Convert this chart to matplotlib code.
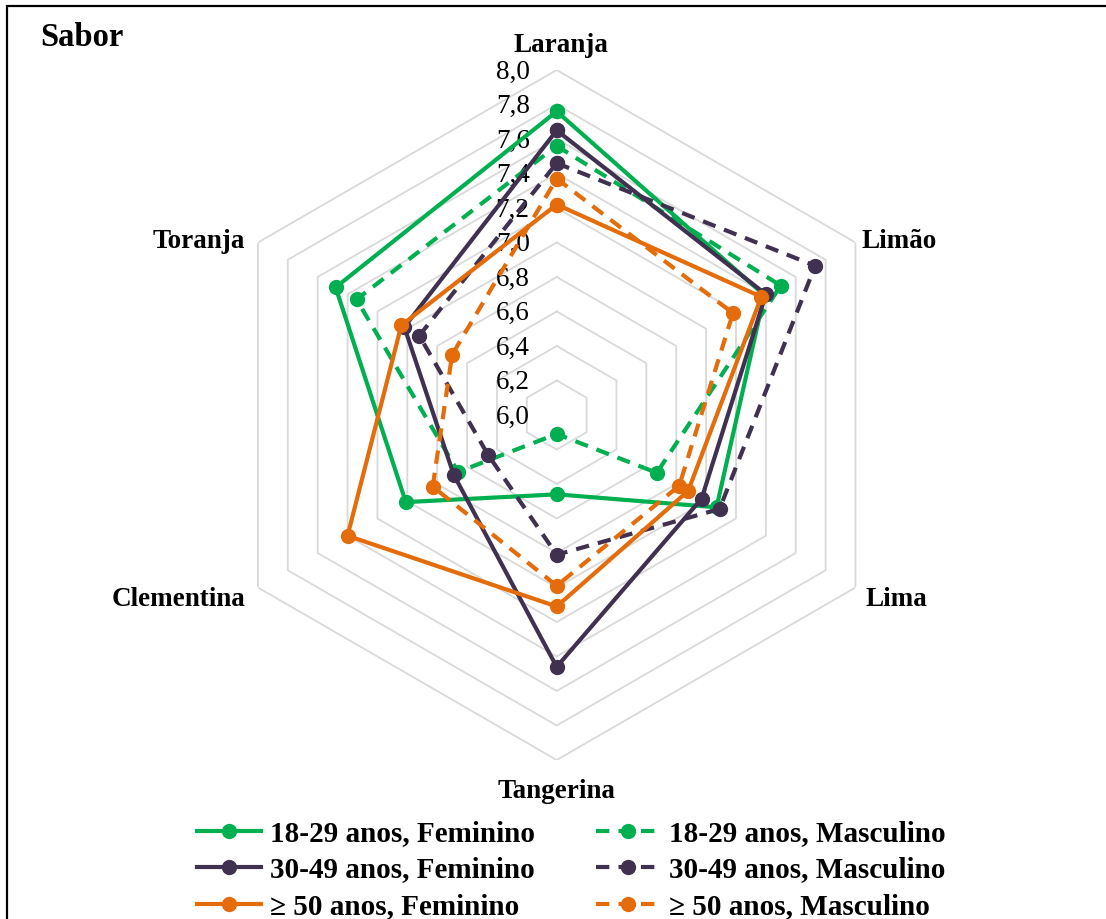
import numpy as np
import matplotlib
matplotlib.use("Agg")
import matplotlib.pyplot as plt
from matplotlib.lines import Line2D
from matplotlib.patches import Rectangle

categories = ["Laranja", "Limão", "Lima", "Tangerina", "Clementina", "Toranja"]
series_names = ["18-29 anos, Feminino", "18-29 anos, Masculino",
                "30-49 anos, Feminino", "30-49 anos, Masculino",
                "≥ 50 anos, Feminino", "≥ 50 anos, Masculino"]
f_18_29 = [7.76, 7.39, 7.07, 6.46, 7.01, 7.48]
m_18_29 = [7.56, 7.50, 6.67, 6.11, 6.66, 7.34]
f_30_49 = [7.65, 7.40, 6.97, 7.46, 6.69, 7.02]
m_30_49 = [7.46, 7.73, 7.09, 6.81, 6.46, 6.92]
f_50 = [7.22, 7.37, 6.88, 7.11, 7.40, 7.04]
m_50 = [7.37, 7.18, 6.82, 6.99, 6.83, 6.70]
tick_values = [6.0, 6.2, 6.4, 6.6, 6.8, 7.0, 7.2, 7.4, 7.6, 7.8, 8.0]
tick_labels = ["6,0", "6,2", "6,4", "6,6", "6,8", "7,0", "7,2", "7,4", "7,6", "7,8", "8,0"]

series = [f_18_29, m_18_29, f_30_49, m_30_49, f_50, m_50]
colors = ["#00B050", "#00B050", "#403151", "#403151", "#E46C0A", "#E46C0A"]
styles = ["-", (0, (3.2, 2.2)), "-", (0, (3.2, 2.2)), "-", (0, (3.2, 2.2))]

W, H = 1106, 919
fig = plt.figure(figsize=(W / 100, H / 100), dpi=100)
serif = ["Liberation Serif", "DejaVu Serif"]

cx, cy, R = 556.7, 415.0, 345.0
ax = fig.add_axes([(cx - R) / W, (H - cy - R) / H, 2 * R / W, 2 * R / H], polar=True)
ax.set_theta_zero_location("N")
ax.set_theta_direction(-1)
ax.set_ylim(6.0, 8.0)
ax.grid(False)
ax.spines["polar"].set_visible(False)
ax.set_xticks([])
ax.set_yticks([])
ax.patch.set_alpha(0)

n = len(categories)
theta = np.arange(n) * 2 * np.pi / n
theta_c = np.append(theta, theta[0])

# polygon grid
for v in tick_values[1:]:
    ax.plot(theta_c, [v] * (n + 1), color="#D9D9D9", lw=1.3, zorder=1)

for vals, c, ls in zip(series, colors, styles):
    vc = list(vals) + [vals[0]]
    ax.plot(theta_c, vc, color=c, lw=3.0, ls=ls, marker="o", ms=10,
            zorder=3, clip_on=False, dash_capstyle="butt")

for v, lab in zip(tick_values, tick_labels):
    ax.annotate(lab, xy=(0, v), xytext=(-27, -2), textcoords="offset pixels",
                ha="right", va="center", fontsize=19.5, family=serif,
                annotation_clip=False, zorder=2)

# category labels
lab_pos = {
    "Laranja": (561, 45, "center"),
    "Limão": (862, 241, "left"),
    "Lima": (866, 599, "left"),
    "Tangerina": (557, 792, "center"),
    "Clementina": (245, 599, "right"),
    "Toranja": (245, 241, "right"),
}
for cat in categories:
    x, y, ha = lab_pos[cat]
    fig.text(x / W, 1 - y / H, cat, ha=ha, va="center", fontsize=19.5,
             fontweight="bold", family=serif)

fig.text(40 / W, 1 - 37 / H, "Sabor", ha="left", va="center", fontsize=23.5,
         fontweight="bold", family=serif)

handles = [Line2D([0], [0], color=c, lw=3.0, ls=ls, marker="o", ms=10)
           for c, ls in zip(colors, styles)]
order = [0, 2, 4, 1, 3, 5]
leg = fig.legend([handles[i] for i in order], [series_names[i] for i in order],
                 ncol=2, loc="center", bbox_to_anchor=(571 / W, 1 - 870 / H),
                 frameon=False, prop={"family": serif, "weight": "bold", "size": 21},
                 handlelength=2.2, handletextpad=0.3, columnspacing=2.1,
                 labelspacing=0.32)

fig.patches.append(Rectangle((7 / W, -0.1), 1.2, 1 - 6 / H + 0.1,
                             transform=fig.transFigure, fill=False,
                             edgecolor="black", lw=1.6))

fig.savefig("out.png", dpi=100)
